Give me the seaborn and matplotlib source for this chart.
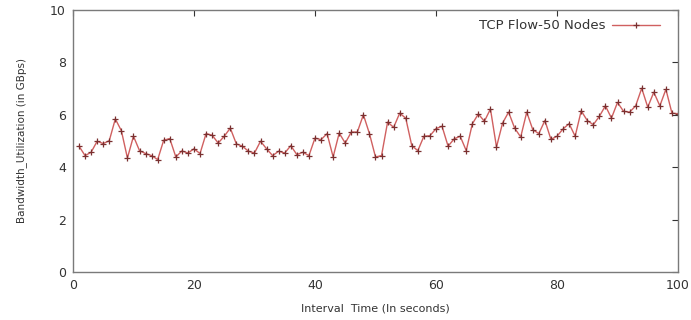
import numpy as np
import pandas as pd
import matplotlib
matplotlib.use("Agg")
import matplotlib.pyplot as plt
import seaborn as sns

# =============================================================================
# DATA
# =============================================================================
interval_time = list(range(1, 101))
bandwidth = [
    4.80, 4.44, 4.57, 4.99, 4.90, 5.01, 5.84, 5.39, 4.35, 5.18,
    4.63, 4.52, 4.44, 4.29, 5.03, 5.09, 4.39, 4.62, 4.54, 4.70,
    4.52, 5.28, 5.22, 4.92, 5.18, 5.49, 4.89, 4.80, 4.61, 4.54,
    4.99, 4.70, 4.44, 4.61, 4.54, 4.82, 4.48, 4.57, 4.44, 5.11,
    5.05, 5.28, 4.39, 5.30, 4.92, 5.34, 5.34, 6.00, 5.28, 4.39,
    4.44, 5.72, 5.52, 6.06, 5.87, 4.82, 4.63, 5.18, 5.20, 5.47,
    5.56, 4.80, 5.08, 5.18, 4.63, 5.65, 6.03, 5.75, 6.22, 4.77,
    5.68, 6.10, 5.49, 5.15, 6.10, 5.43, 5.28, 5.78, 5.06, 5.18,
    5.46, 5.66, 5.18, 6.15, 5.78, 5.62, 5.94, 6.34, 5.87, 6.47,
    6.13, 6.10, 6.34, 7.01, 6.29, 6.86, 6.34, 6.97, 6.06, 6.04,
]
series_label = "TCP Flow-50 Nodes"

df = pd.DataFrame({"Interval Time": interval_time, "Bandwidth": bandwidth})

# =============================================================================
# PLOTTING
# =============================================================================
sns.set_style("white")
plt.rcParams["font.family"] = ["DejaVu Sans"]

FRAME_COLOR = "#7a7a7a"
TEXT_COLOR = "#333333"

fig = plt.figure(figsize=(6.91, 3.2), dpi=100)
ax = fig.add_axes([0.1056, 0.15, 0.8756, 0.819])

sns.lineplot(data=df, x="Interval Time", y="Bandwidth", ax=ax,
             color="#d06060", linewidth=1.0, marker="+", markersize=5,
             markeredgewidth=0.9, markeredgecolor="#7a3030",
             label=series_label)

ax.set_xlim(0, 100)
ax.set_ylim(0, 10)
ax.set_xticks([0, 20, 40, 60, 80, 100])
ax.set_yticks([0, 2, 4, 6, 8, 10])

ax.tick_params(direction="in", length=4, width=0.8, color="#333333",
               top=True, right=True, labelsize=9, labelcolor=TEXT_COLOR, pad=5)
for side in ax.spines.values():
    side.set_color(FRAME_COLOR)
    side.set_linewidth(1.0)

ax.set_xlabel("Interval  Time (In seconds)", fontsize=8, color=TEXT_COLOR, labelpad=8)
ax.set_ylabel("Bandwidth_Utilization (in GBps)", fontsize=7.5, color=TEXT_COLOR, labelpad=17)

ax.legend(loc="upper right", frameon=False, markerfirst=False, fontsize=9.5,
          handlelength=3.6, handletextpad=0.5, borderaxespad=0.3,
          bbox_to_anchor=(0.985, 1.0), labelcolor=TEXT_COLOR)

plt.savefig("out.png", dpi=100)
